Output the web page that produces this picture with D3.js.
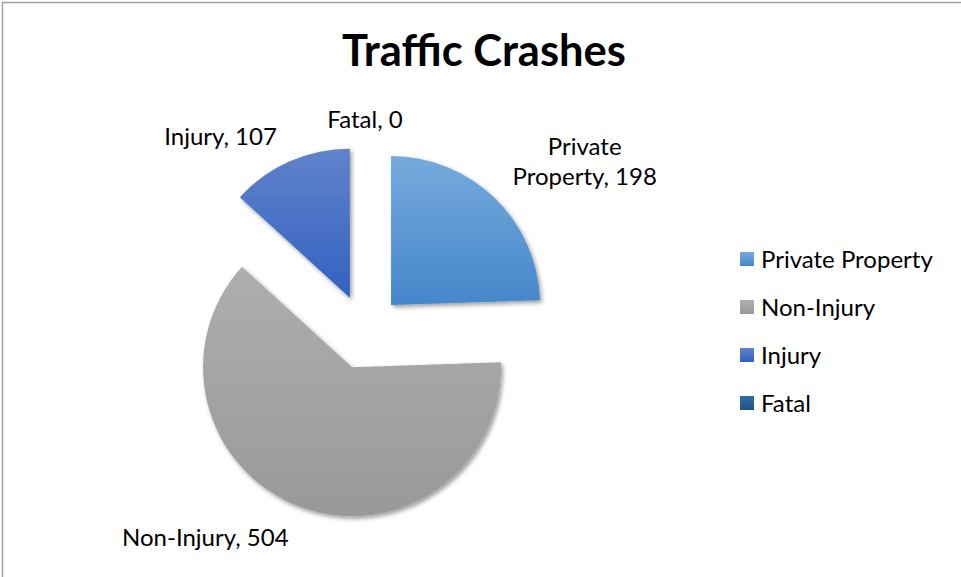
<!DOCTYPE html>
<html>
<head>
<meta charset="utf-8">
<script src="https://cdn.jsdelivr.net/npm/d3@7"></script>
<style>
  body { margin: 0; background: #fff; }
  svg { display: block; font-family: Lato, "Open Sans", sans-serif; }
</style>
</head>
<body>
<svg width="961" height="577"></svg>
<script>
// chart data
var categories = ["Private Property", "Non-Injury", "Injury", "Fatal"];
var crashCounts = [198, 504, 107, 0];
var colorTop = ["#76aadd", "#aeaeae", "#6083ca", "#316da3"];
var colorBottom = ["#4586ca", "#999999", "#3261c1", "#1d5286"];
var chartTitle = "Traffic Crashes";

var svg = d3.select("svg");
var W = +svg.attr("width"), H = +svg.attr("height");

// chart area frame (only top and left edges are inside the picture)
svg.append("rect")
    .attr("x", 2.5).attr("y", 2.5)
    .attr("width", W + 20).attr("height", H + 20)
    .attr("fill", "#fff")
    .attr("stroke", "#a0a0a0")
    .attr("stroke-width", 1.5);

var defs = svg.append("defs");

var shadow = defs.append("filter").attr("id", "shadow")
    .attr("x", "-20%").attr("y", "-20%").attr("width", "140%").attr("height", "140%");
shadow.append("feDropShadow")
    .attr("dx", 2).attr("dy", 2.5)
    .attr("stdDeviation", 2.2)
    .attr("flood-color", "#000")
    .attr("flood-opacity", 0.38);

categories.forEach(function(c, i) {
    var g = defs.append("linearGradient").attr("id", "grad" + i)
        .attr("x1", 0).attr("y1", 0).attr("x2", 0).attr("y2", 1);
    g.append("stop").attr("offset", "0%").attr("stop-color", colorTop[i]);
    g.append("stop").attr("offset", "100%").attr("stop-color", colorBottom[i]);
});

// title
svg.append("text")
    .attr("x", 484).attr("y", 66)
    .attr("text-anchor", "middle")
    .attr("font-size", 43.5)
    .attr("font-weight", "bold")
    .attr("fill", "#000")
    .text(chartTitle);

// pie geometry
var cx = 365, cy = 332, radius = 149, explode = 37.5;

var pie = d3.pie().sort(null).value(function(d) { return d; });
var arcs = pie(crashCounts);

var arc = d3.arc().innerRadius(0).outerRadius(radius);

function mid(d) { return (d.startAngle + d.endAngle) / 2; }
function offsetOf(d, dist) {
    var a = mid(d);
    return [Math.sin(a) * dist, -Math.cos(a) * dist];
}

var pieG = svg.append("g").attr("transform", "translate(" + cx + "," + cy + ")");

pieG.selectAll("path.slice")
    .data(arcs)
    .enter().append("path")
    .attr("class", "slice")
    .filter(function(d) { return d.value > 0; })
    .attr("transform", function(d) { return "translate(" + offsetOf(d, explode) + ")"; })
    .attr("d", arc)
    .attr("fill", function(d, i) { return "url(#grad" + d.index + ")"; })
    .attr("filter", "url(#shadow)");

// data labels, outside end
var labelSize = 24, lineH = 30;
var labelG = pieG.append("g").attr("font-size", labelSize).attr("fill", "#000");

function textWidth(s) {
    var t = labelG.append("text").text(s);
    var w = t.node().getComputedTextLength();
    t.remove();
    return w;
}

// legend
var legendX = 740, legendGap = 48, sq = 14;
var legendTop = cy - (categories.length - 1) * legendGap / 2;

arcs.forEach(function(d) {
    var full = categories[d.index] + ", " + d.value;
    var a = mid(d);
    var ex = offsetOf(d, explode);
    var p = offsetOf(d, radius + 17);
    var sinA = Math.sin(a), cosA = Math.cos(a);
    var side = sinA > 0.05 ? 1 : (sinA < -0.05 ? -1 : 0);
    var px = ex[0] + p[0] + side * 6, py = ex[1] + p[1];

    var lines = [full];
    var w = textWidth(full);
    // wrap when the label would run into the legend
    var leftGuess = side > 0 ? cx + px : (side < 0 ? cx + px - w : cx + px - w / 2);
    if (leftGuess + w > legendX - 12) {
        var words = full.split(" "), best = null;
        for (var k = 1; k < words.length; k++) {
            var l1 = words.slice(0, k).join(" "), l2 = words.slice(k).join(" ");
            var mw = Math.max(textWidth(l1), textWidth(l2));
            if (!best || mw < best.mw) best = { mw: mw, lines: [l1, l2] };
        }
        lines = best.lines;
        w = best.mw;
    }
    var xCenter = px + side * w / 2;
    // first baseline
    var base = cosA > 0 ? py - 1 - (lines.length - 1) * lineH : py + 23;

    var t = labelG.append("text")
        .attr("text-anchor", "middle");
    lines.forEach(function(s, j) {
        t.append("tspan")
            .attr("x", xCenter)
            .attr("y", base + j * lineH)
            .text(s);
    });
});

var legend = svg.append("g")
    .attr("font-size", labelSize);

var item = legend.selectAll("g")
    .data(categories)
    .enter().append("g")
    .attr("transform", function(d, i) { return "translate(" + legendX + "," + (legendTop + i * legendGap) + ")"; });

item.append("rect")
    .attr("x", 0).attr("y", -8)
    .attr("width", sq).attr("height", sq)
    .attr("fill", function(d, i) { return "url(#grad" + i + ")"; });

item.append("text")
    .attr("x", 21).attr("y", 0)
    .attr("dy", "0.35em")
    .attr("fill", "#000")
    .text(function(d) { return d; });
</script>
</body>
</html>
